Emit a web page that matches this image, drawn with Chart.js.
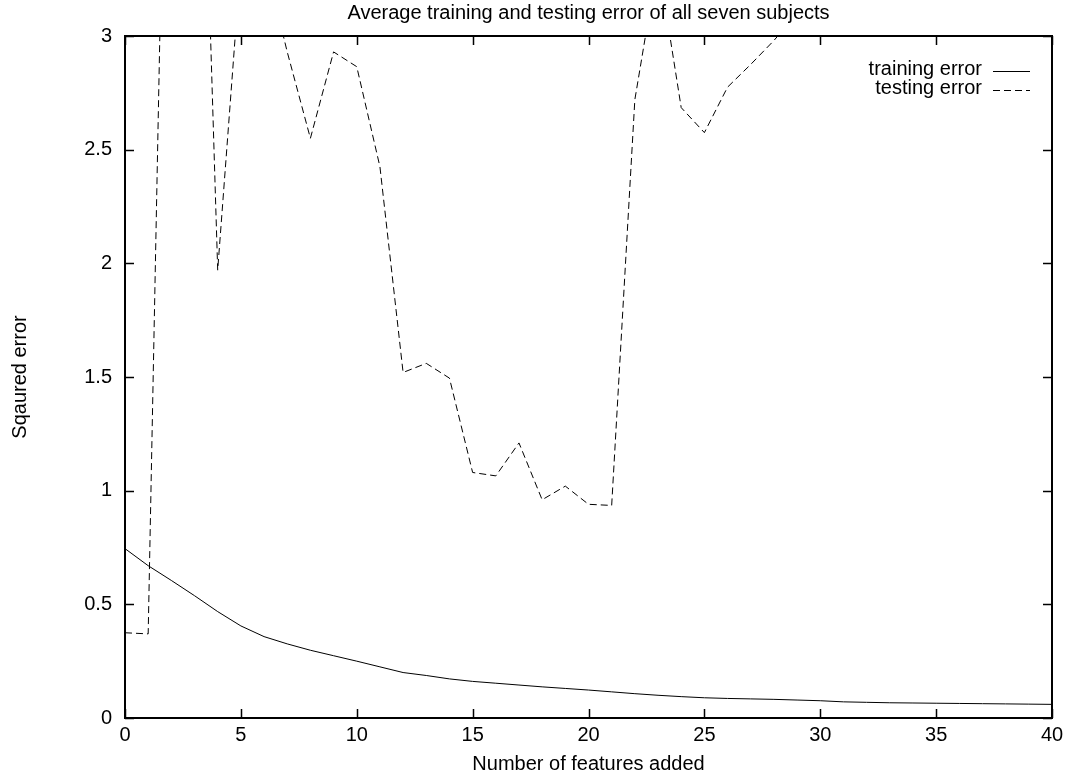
<!DOCTYPE html>
<html lang="en">
<head>
<meta charset="UTF-8" />
<title>Average training and testing error of all seven subjects</title>
<script src="https://cdn.jsdelivr.net/npm/chart.js"></script>
<style>
  html, body { margin: 0; padding: 0; background: #fff; }
  canvas { display: block; }
</style>
</head>
<body>
<canvas id="myChart" width="1072" height="778"></canvas>
<script>
// values
const features = [0, 1, 2, 3, 4, 5, 6, 7, 8, 9, 10, 11, 12, 13, 14, 15, 16, 17, 18, 19, 20,
  21, 22, 23, 24, 25, 26, 27, 28, 29, 30, 31, 32, 33, 34, 35, 36, 37, 38, 39, 40];

const trainingError = [0.745, 0.67, 0.605, 0.538, 0.468, 0.405, 0.358, 0.326, 0.298, 0.274, 0.25,
  0.225, 0.2, 0.187, 0.172, 0.161, 0.153, 0.145, 0.137, 0.13, 0.123,
  0.115, 0.107, 0.1, 0.094, 0.089, 0.086, 0.084, 0.082, 0.079, 0.076,
  0.071, 0.069, 0.067, 0.066, 0.065, 0.064, 0.063, 0.062, 0.061, 0.06];

// points above 3 are clipped in the original; 2, 3, 5, 6, 23, 29 estimated from the slopes,
// 30..40 are off the top of the plot and cannot be read
const testingError = [0.375, 0.37, 5.6, 5.3, 1.97, 3.33, 3.35, 2.93, 2.55, 2.93, 2.865,
  2.425, 1.52, 1.56, 1.495, 1.08, 1.065, 1.21, 0.96, 1.02, 0.94,
  0.935, 2.72, 3.33, 2.685, 2.575, 2.775, 2.875, 2.98, 3.1, null,
  null, null, null, null, null, null, null, null, null, null];

const xTicks = [0, 5, 10, 15, 20, 25, 30, 35, 40];
const yTicks = [0, 0.5, 1, 1.5, 2, 2.5, 3];

const FONT = "'Liberation Sans', Arial, Helvetica, sans-serif";
Chart.defaults.font.family = FONT;
Chart.defaults.font.size = 20;
Chart.defaults.color = '#000';

// gnuplot look: full frame, inward ticks on all four sides, title and key drawn by hand
const gnuplotFrame = {
  id: 'gnuplotFrame',
  afterDraw(chart) {
    const { ctx, chartArea: a, scales: { x, y } } = chart;
    const tick = 9;
    ctx.save();
    ctx.strokeStyle = '#000';
    ctx.lineWidth = 2;
    ctx.strokeRect(a.left, a.top, a.right - a.left, a.bottom - a.top);

    ctx.lineWidth = 1.5;
    ctx.beginPath();
    xTicks.forEach(v => {
      const px = Math.round(x.getPixelForValue(v)) + 0.5;
      ctx.moveTo(px, a.bottom); ctx.lineTo(px, a.bottom - tick);
      ctx.moveTo(px, a.top); ctx.lineTo(px, a.top + tick);
    });
    yTicks.forEach(v => {
      const py = Math.round(y.getPixelForValue(v)) + 0.5;
      ctx.moveTo(a.left, py); ctx.lineTo(a.left + tick, py);
      ctx.moveTo(a.right, py); ctx.lineTo(a.right - tick, py);
    });
    ctx.stroke();

    // title
    ctx.fillStyle = '#000';
    ctx.font = '20px ' + FONT;
    ctx.textAlign = 'center';
    ctx.textBaseline = 'middle';
    ctx.fillText('Average training and testing error of all seven subjects', (a.left + a.right) / 2, 13);

    // key
    const textRight = 982, lineX0 = 993, lineX1 = 1030;
    chart.data.datasets.forEach((ds, i) => {
      const ry = 69 + i * 19;
      ctx.textAlign = 'right';
      ctx.fillText(ds.label, textRight, ry);
      ctx.lineWidth = ds.borderWidth;
      ctx.setLineDash(ds.borderDash || []);
      ctx.beginPath();
      ctx.moveTo(lineX0, ry + 2.5);
      ctx.lineTo(lineX1, ry + 2.5);
      ctx.stroke();
    });
    ctx.restore();
  }
};

const ctx = document.getElementById('myChart').getContext('2d');

new Chart(ctx, {
  type: 'line',
  data: {
    datasets: [
      {
        label: 'training error',
        data: features.map((f, i) => ({ x: f, y: trainingError[i] })),
        borderColor: '#000',
        borderWidth: 1,
        pointRadius: 0,
        tension: 0
      },
      {
        label: 'testing error',
        data: features.map((f, i) => ({ x: f, y: testingError[i] })),
        borderColor: '#000',
        borderWidth: 1,
        borderDash: [7, 4],
        pointRadius: 0,
        tension: 0
      }
    ]
  },
  options: {
    responsive: false,
    animation: false,
    devicePixelRatio: 1,
    layout: { padding: { top: 36, right: 20, left: 0, bottom: 0 } },
    plugins: {
      legend: { display: false },
      tooltip: { enabled: false },
      title: { display: false }
    },
    scales: {
      x: {
        type: 'linear',
        min: 0,
        max: 40,
        afterBuildTicks: s => { s.ticks = xTicks.map(v => ({ value: v })); },
        afterFit: s => { s.height = 60; },
        ticks: { padding: 5, maxRotation: 0, callback: v => String(v) },
        grid: { display: false, drawTicks: false },
        border: { display: false },
        title: { display: true, text: 'Number of features added', padding: { top: 0, bottom: 2 } }
      },
      y: {
        type: 'linear',
        min: 0,
        max: 3,
        afterBuildTicks: s => { s.ticks = yTicks.map(v => ({ value: v })); },
        afterFit: s => { s.width = 125; },
        ticks: { padding: 13, callback: v => String(v) },
        grid: { display: false, drawTicks: false },
        border: { display: false },
        title: { display: true, text: 'Sqaured error', padding: { top: 8, bottom: 0 } }
      }
    }
  },
  plugins: [gnuplotFrame]
});
</script>
</body>
</html>
